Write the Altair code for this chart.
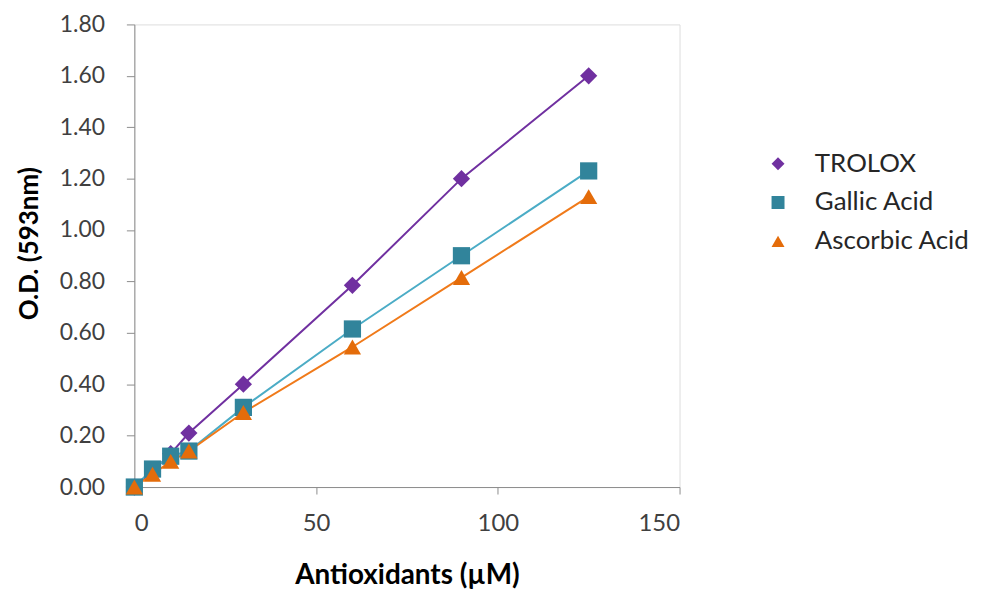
import altair as alt
import pandas as pd

# Data
conc = [0, 5, 10, 15, 30, 60, 90, 125]
trolox = [0.00, 0.06, 0.13, 0.21, 0.40, 0.785, 1.20, 1.60]
gallic = [0.00, 0.07, 0.12, 0.14, 0.31, 0.615, 0.90, 1.23]
ascorbic = [0.00, 0.05, 0.10, 0.14, 0.29, 0.545, 0.815, 1.13]

series = ["TROLOX", "Gallic Acid", "Ascorbic Acid"]
point_colors = ["#7030A0", "#31849B", "#E46C0A"]
line_colors = ["#7030A0", "#4BACC6", "#F07A1A"]
shapes = ["diamond", "square", "triangle-up"]
y_ticks = [0.0, 0.2, 0.4, 0.6, 0.8, 1.0, 1.2, 1.4, 1.6, 1.8]
x_ticks = [0, 50, 100, 150]

rows = []
for name, vals in zip(series, [trolox, gallic, ascorbic]):
    for c, v in zip(conc, vals):
        rows.append({"series": name, "conc": c, "od": v, "order": series.index(name)})
df = pd.DataFrame(rows)

FONT = "Lato"
AXIS_GRAY = "#8C8C8C"
PLOT_H = 465

x_enc = alt.X(
    "conc:Q",
    scale=alt.Scale(domain=[0, 150], nice=False),
    axis=alt.Axis(
        title="Antioxidants (µM)",
        values=x_ticks,
        grid=False,
        labelFontSize=24,
        titleFontSize=28,
        titleFontWeight="bold",
        titleColor="#000000",
        labelColor="#404040",
        domainColor=AXIS_GRAY,
        tickColor=AXIS_GRAY,
        tickSize=7,
        labelPadding=18,
        titlePadding=26,
        labelFont=FONT,
        titleFont=FONT,
    ),
)
y_enc = alt.Y(
    "od:Q",
    scale=alt.Scale(domain=[0, 1.8], nice=False),
    axis=alt.Axis(
        title="O.D. (593nm)",
        values=y_ticks,
        format=".2f",
        grid=False,
        labelFontSize=23,
        titleFontSize=26,
        titleFontWeight="bold",
        titleColor="#000000",
        labelColor="#404040",
        domainColor=AXIS_GRAY,
        tickColor=AXIS_GRAY,
        tickSize=8,
        labelPadding=22,
        titlePadding=17,
        titleY=220,
        labelFont=FONT,
        titleFont=FONT,
    ),
)

line_layers = [
    alt.Chart(df)
    .transform_filter(alt.datum.series == name)
    .mark_line(strokeWidth=2, color=col)
    .encode(x=x_enc, y=y_enc)
    for name, col in zip(series, line_colors)
]

points = alt.Chart(df).mark_point(filled=True, opacity=1, size=300).encode(
    x=x_enc,
    y=y_enc,
    order=alt.Order("order:Q"),
    color=alt.Color(
        "series:N",
        scale=alt.Scale(domain=series, range=point_colors),
        legend=alt.Legend(
            title=None,
            orient="none",
            legendX=634,
            legendY=127,
            labelFontSize=26,
            labelFont=FONT,
            labelColor="#262626",
            symbolSize=170,
            rowPadding=13,
            labelOffset=24,
            symbolStrokeWidth=0,
        ),
    ),
    shape=alt.Shape(
        "series:N",
        scale=alt.Scale(domain=series, range=shapes),
    ),
)

chart = (
    alt.layer(*line_layers, points)
    .properties(
        width=548,
        height=PLOT_H,
        autosize=alt.AutoSizeParams(type="none"),
        padding={"left": 127, "top": 15, "right": 300, "bottom": 106},
    )
    .configure_view(stroke="#A6A6A6", strokeWidth=1)
    .configure(background="white")
)

chart.save("out.html", embed_options={"renderer": "svg", "actions": False})
